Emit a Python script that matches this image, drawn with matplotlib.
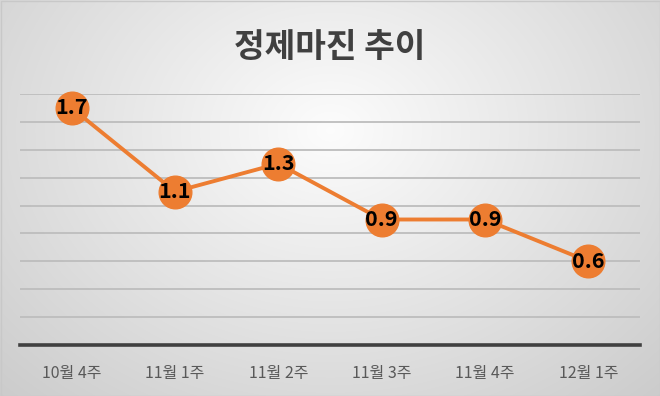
import numpy as np
import matplotlib
matplotlib.use("Agg")
import matplotlib.pyplot as plt

plt.rcParams['font.family'] = ['Noto Sans CJK KR', 'DejaVu Sans']

categories = ["10월 4주", "11월 1주", "11월 2주", "11월 3주", "11월 4주", "12월 1주"]
values = [1.7, 1.1, 1.3, 0.9, 0.9, 0.6]
title = "정제마진 추이"

W, H = 660, 396
fig = plt.figure(figsize=(W/100, H/100), dpi=100)

# radial gradient background
bg = fig.add_axes([0, 0, 1, 1], zorder=-10)
yy, xx = np.mgrid[0:H, 0:W]
cx, cy = 330, 130
r = np.sqrt(((xx - cx) / 420.0) ** 2 + ((yy - cy) / 330.0) ** 2)
shade = 0.99 - 0.17 * np.clip(r, 0, 1.2)
img = np.dstack([shade, shade, shade])
bg.imshow(img, extent=[0, W, H, 0], aspect='auto', interpolation='bilinear')
bg.set_xlim(0, W); bg.set_ylim(H, 0)
bg.axis('off')
bg.add_patch(plt.Rectangle((0.5, 0.5), W-1, H-1, fill=False, ec='#c8c8c8', lw=1))

ax = fig.add_axes([20/W, 1 - 345/H, 620/W, (345-94)/H])
ax.patch.set_alpha(0)
x = np.arange(len(categories))
ax.set_xlim(-0.5, len(categories) - 0.5)
ax.set_ylim(0, 1.8)
ax.set_yticks(np.arange(0.2, 1.81, 0.2))
ax.yaxis.grid(True, color='#bdbdbd', lw=1.3)
ax.set_axisbelow(True)
ax.tick_params(axis='y', left=False, labelleft=False)
ax.tick_params(axis='x', bottom=False, labelsize=11.5, labelcolor='#595959', pad=11)
ax.set_xticks(x)
ax.set_xticklabels(categories)
for s in ['top', 'right', 'left']:
    ax.spines[s].set_visible(False)
ax.spines['bottom'].set_color('#404040')
ax.spines['bottom'].set_linewidth(2.6)

ax.plot(x, values, color='#ED7D31', lw=2.8, marker='o', markersize=23.5,
        markerfacecolor='#ED7D31', markeredgecolor='#ED7D31', zorder=3, clip_on=False)
for xi, v in zip(x, values):
    ax.text(xi, v, f"{v:.1f}", ha='center', va='center', fontsize=15.5,
            fontweight='bold', color='black', zorder=4)

fig.text(0.5, 1 - 47/H, title, ha='center', va='center', fontsize=24,
         fontweight='bold', color='#404040')

fig.savefig('out.png', dpi=100)
